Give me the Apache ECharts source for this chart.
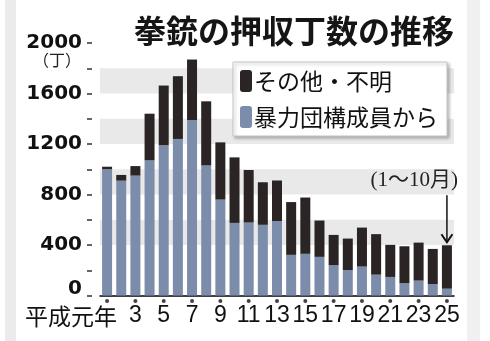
<!DOCTYPE html>
<html><head><meta charset="utf-8">
<script src="https://cdn.jsdelivr.net/npm/echarts@6/dist/echarts.min.js"></script>
<style>html,body{margin:0;padding:0;background:#fff}#c{width:490px;height:341px}</style>
</head><body><div id="c"></div>
<script>
const categories = ['1','2','3','4','5','6','7','8','9','10','11','12','13','14','15','16','17','18','19','20','21','22','23','24','25'];
const firstLabel = '平成元年';
const gangMembers = [1000, 910, 950, 1070, 1190, 1240, 1390, 1030, 760, 575, 578, 560, 590, 322, 330, 306, 240, 202, 229, 165, 147, 97, 118, 91, 54];
const otherUnknown = [20, 45, 75, 370, 473, 497, 479, 508, 453, 519, 416, 337, 321, 418, 446, 288, 240, 249, 309, 321, 254, 293, 301, 278, 344];
const yLabelValues = [0, 400, 800, 1200, 1600, 2000];
const bands = [[400, 600], [800, 1000], [1200, 1400], [1600, 1800]];
const seriesNames = ['その他・不明', '暴力団構成員から'];
const titleText = '拳銃の押収丁数の推移';
const unitText = '（丁）';
const noteText = '(1〜10月)';

const BLUE = '#7c8dab', BLACK = '#2a2424';
const labeledCats = categories.filter((c, i) => i % 2 === 0);
const chart = echarts.init(document.getElementById('c'), null, {renderer: 'canvas'});
const option = {
  animation: false,
  backgroundColor: '#fff',
  title: {
    text: titleText, left: 134, top: 15, padding: 0,
    textStyle: {fontSize: 32, fontWeight: 'bold', color: '#151515', fontFamily: 'Noto Sans CJK JP'}
  },
  legend: {
    orient: 'vertical', left: 233, top: 62,
    data: [seriesNames[0], seriesNames[1]],
    itemWidth: 12, itemHeight: 22, itemGap: 12,
    padding: [7, 9, 7, 7],
    backgroundColor: '#fff', borderColor: '#c4c4c4', borderWidth: 1,
    shadowColor: 'rgba(0,0,0,0.25)', shadowBlur: 3, shadowOffsetX: 2, shadowOffsetY: 2,
    textStyle: {fontSize: 23, lineHeight: 24, color: '#111', fontFamily: 'Noto Sans CJK JP', padding: [0,0,0,-3]},
    selectedMode: false
  },
  grid: [
    {left: 100, width: 354, top: 43, bottom: 45.5, containLabel: false},
    {left: 100, width: 354, top: 298, height: 6, containLabel: false}
  ],
  xAxis: [{
    type: 'category', data: categories,
    axisLine: {lineStyle: {color: '#000', width: 1.5}},
    axisTick: {show: false},
    axisLabel: {
      interval: 1, margin: 9, color: '#111', fontSize: 23, lineHeight: 22,
      fontFamily: "'Liberation Sans Narrow', 'Liberation Sans', sans-serif",
      formatter: function (v, i) { return i === 0 ? '' : v; }
    }
  }, {
    type: 'category', data: categories, gridIndex: 1,
    axisLine: {show: false}, axisTick: {show: false}, axisLabel: {show: false}
  }],
  yAxis: [{
    type: 'value', min: 0, max: 2000, interval: 200, offset: 8,
    axisLine: {show: false},
    axisTick: {show: true, length: 5, lineStyle: {color: '#333', width: 1.5}},
    splitLine: {show: false},
    axisLabel: {
      margin: 10, color: '#111',
      formatter: function (v) {
        if (yLabelValues.indexOf(v) < 0) return '';
        return v === 0 ? '{z|0}' : '{a|' + v + '}';
      },
      rich: {
        a: {fontSize: 20, fontWeight: 'bold', fontFamily: 'DejaVu Sans', color: '#111'},
        z: {fontSize: 20, fontWeight: 'bold', fontFamily: 'DejaVu Sans', color: '#111', padding: [0, 0, 14, 0]}
      }
    }
  }, {
    type: 'value', gridIndex: 1, min: 0, max: 1, show: false
  }],
  series: [
    {
      name: seriesNames[1], type: 'bar', stack: 's', barWidth: 10,
      data: gangMembers, itemStyle: {color: BLUE},
      markArea: {
        silent: true, itemStyle: {color: '#e9e9e9'},
        data: bands.map(b => [{yAxis: b[0]}, {yAxis: b[1]}])
      }
    },
    {
      name: seriesNames[0], type: 'bar', stack: 's', barWidth: 10,
      data: otherUnknown, itemStyle: {color: BLACK}
    },
    {
      type: 'scatter', xAxisIndex: 1, yAxisIndex: 1, symbolSize: 4, silent: true,
      itemStyle: {color: '#111'},
      data: labeledCats.map(c => [c, 0.5])
    }
  ],
  graphic: [
    {type: 'rect', left: 5, top: 0, z: -10, shape: {width: 11, height: 341}, style: {fill: '#ebebeb'}, silent: true},
    {type: 'rect', left: 467, top: 0, z: -10, shape: {width: 13, height: 341}, style: {fill: '#f0f0f0'}, silent: true},
    {type: 'text', left: 33, top: 52, z: 100, style: {text: unitText, fontSize: 16, fill: '#222', fontFamily: 'Noto Sans CJK JP'}}
  ]
};
chart.setOption(option);

const lastIdx = categories.length - 1;
const total = gangMembers[lastIdx] + otherUnknown[lastIdx];
const ax = chart.convertToPixel({xAxisIndex: 0}, categories[lastIdx]);
const firstX = chart.convertToPixel({xAxisIndex: 0}, categories[0]);
const zeroY = chart.convertToPixel({yAxisIndex: 0}, 0);
const tipY = chart.convertToPixel({yAxisIndex: 0}, total) - 3;
const topY = tipY - 47;
chart.setOption({
  graphic: option.graphic.concat([
    {type: 'line', z: 100, shape: {x1: ax, y1: topY, x2: ax, y2: tipY}, style: {stroke: '#111', lineWidth: 1.5}},
    {type: 'polyline', z: 100, shape: {points: [[ax - 5.5, tipY - 8], [ax, tipY], [ax + 5.5, tipY - 8]]}, style: {stroke: '#111', lineWidth: 2, fill: null}},
    {type: 'text', z: 100, x: ax + 11, y: topY - 15, style: {text: noteText, fontSize: 21, fill: '#222', fontFamily: "'Liberation Serif', 'Noto Sans CJK JP', serif", align: 'right', verticalAlign: 'middle'}},
    {type: 'text', z: 100, x: firstX + 10, y: zeroY + 21, style: {text: firstLabel, fontSize: 23, fill: '#111', fontFamily: 'Noto Sans CJK JP', align: 'right', verticalAlign: 'middle'}}
  ])
});
</script></body></html>
